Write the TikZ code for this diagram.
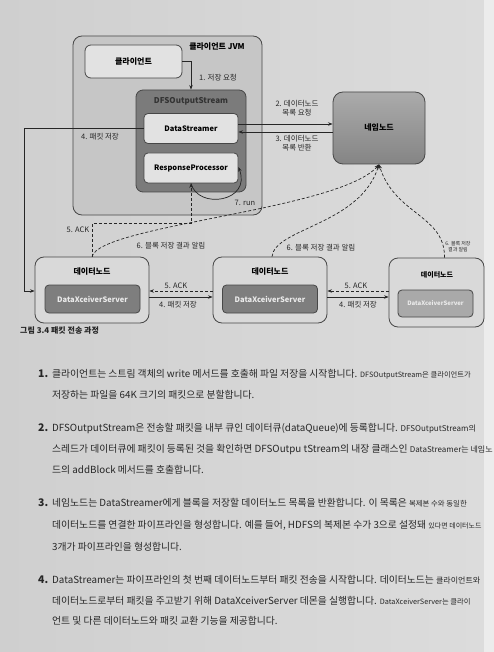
\documentclass[tikz,border=0pt]{standalone}
\usepackage{fontspec}
\setmainfont{Noto Sans CJK KR}
\usepackage{xcolor}
\usetikzlibrary{arrows.meta}

\definecolor{paperleft}{HTML}{CFCFCF}
\definecolor{paperright}{HTML}{DCDCDC}
\definecolor{pageedge}{HTML}{ECECEC}
\definecolor{ink}{HTML}{262626}
\definecolor{edgegray}{HTML}{474747}
\definecolor{jvmfill}{HTML}{C6C6C6}
\definecolor{lightfill}{HTML}{E2E2E2}
\definecolor{dfsfill}{HTML}{7B7B7B}
\definecolor{serverfill}{HTML}{7E7E7E}
\definecolor{paleserver}{HTML}{A9A9A9}
\definecolor{nodefill}{HTML}{D9D9D9}

% smaller run of text at the curled right edge of the page
\newcommand{\edgetext}[2]{{\fontsize{#1}{8}\selectfont #2}}

\tikzset{
  box/.style={draw=edgegray, line width=0.8pt, inner sep=0pt},
  jvmbox/.style={box, fill=jvmfill, rounded corners=9pt},
  clientbox/.style={box, fill=lightfill, rounded corners=6pt, font=\fontsize{8}{9}\selectfont\bfseries},
  dfsbox/.style={box, fill=dfsfill, rounded corners=7pt},
  classbox/.style={box, fill=lightfill, rounded corners=4pt, minimum width=94pt, minimum height=30pt, font=\fontsize{7.5}{9}\selectfont\bfseries},
  namebox/.style={box, top color=black!33, bottom color=black!48, rounded corners=10pt, font=\fontsize{8}{9}\selectfont\bfseries},
  datanodebox/.style={box, fill=nodefill, rounded corners=9pt, minimum width=114pt, minimum height=66pt},
  serverbox/.style={box, fill=serverfill, rounded corners=4pt, minimum width=95pt, minimum height=28pt, text=black!8, font=\fontsize{7.5}{9}\selectfont\bfseries},
  boxtitle/.style={inner sep=0pt, font=\fontsize{8}{9}\selectfont\bfseries},
  label/.style={inner sep=0pt, text=ink, font=\fontsize{7.5}{9}\selectfont},
  link/.style={draw=ink, line width=0.7pt},
  dashlink/.style={link, dash pattern=on 3pt off 2pt},
  bodytext/.style={anchor=west, inner sep=0pt, text height=8pt, text depth=2pt, text=ink, font=\fontsize{9.8}{11}\selectfont},
  itemnum/.style={bodytext, font=\fontsize{10.5}{11}\selectfont\bfseries}
}

\begin{document}
\begin{tikzpicture}[x=1pt,y=-1pt,>={Stealth[length=1.6mm]}]
  \useasboundingbox (0,0) rectangle (494,652);
  \shade[left color=paperleft, right color=paperright] (0,0) rectangle (484,652);
  \fill[pageedge] (484,0) rectangle (494,652);

  % client JVM
  \node[jvmbox, minimum width=189pt, minimum height=179pt] (jvm) at (167.5,125.5) {};
  \node[boxtitle] (jvmtitle) at (217,47) {클라이언트 JVM};
  \node[clientbox, minimum width=97pt, minimum height=33pt] (client) at (133.5,61.5) {클라이언트};
  \node[dfsbox, minimum width=110pt, minimum height=102pt] (dfs) at (191,141) {};
  \node[boxtitle, text=black!80] (dfstitle) at (191,101) {DFSOutputStream};
  \node[classbox] (streamer) at (191,128.5) {DataStreamer};
  \node[classbox] (response) at (191,168) {ResponseProcessor};

  % name node
  \node[namebox, minimum width=92pt, minimum height=72pt] (namenode) at (379,128) {네임노드};

  % data nodes
  \node[datanodebox] (dn1) at (92,290) {};
  \node[boxtitle] (dn1title) at (92,272) {데이터노드};
  \node[serverbox] (dxs1) at (92.5,299) {DataXceiverServer};
  \node[datanodebox] (dn2) at (270,290) {};
  \node[boxtitle] (dn2title) at (270,272) {데이터노드};
  \node[serverbox] (dxs2) at (270,299) {DataXceiverServer};
  \node[datanodebox, minimum width=95pt, minimum height=69pt] (dn3) at (436.5,292.5) {};
  \node[boxtitle, font=\fontsize{7}{8}\selectfont\bfseries] (dn3title) at (437,275) {데이터노드};
  \node[serverbox, fill=paleserver, minimum width=75pt, minimum height=27pt, font=\fontsize{6}{7}\selectfont\bfseries] (dxs3) at (435.5,303.5) {DataXceiverServer};

  % client side arrows
  \draw[link,->] (client.east) -| (dfs.north);
  \node[label] (l1) at (218,78) {1. 저장 요청};
  \draw[link,->] ([yshift=4.5pt]streamer.east) -- ([yshift=4.5pt]streamer.east -| namenode.west);
  \draw[link,->] ([yshift=-3.5pt]streamer.east -| namenode.west) -- ([yshift=-3.5pt]streamer.east);
  \node[label, align=center] (l2) at (297,108) {2. 데이터노드\\목록 요청};
  \node[label, align=center] (l3) at (297,143.5) {3. 데이터노드\\목록 반환};
  \coordinate (leftrail) at (24,0);
  \draw[link,->] (streamer.west) -- (streamer.west -| leftrail) |- ([yshift=-1pt]dn1.west);
  \node[label] (l4) at (100,137) {4. 패킷 저장};
  \draw[link,->] (response.south) .. controls (198,210) and (252,202) .. ([yshift=1pt]response.east);
  \node[label] (l7) at (245,203) {7. run};
  \draw[dashlink,->] (dn1.north) |- ([yshift=-40pt]response.south) -- (response.south);
  \node[label] (l5) at (78,230) {5. ACK};

  % pipeline
  \draw[dashlink,->] ([yshift=-1pt]dn2.west) -- ([yshift=-1pt]dn1.east);
  \draw[link,->] ([yshift=-7pt]dn1.east) -- ([yshift=-7pt]dn2.west);
  \draw[dashlink,->] ([yshift=-1pt]dn2.east -| dn3.west) -- ([yshift=-1pt]dn2.east);
  \draw[link,->] ([yshift=-7pt]dn2.east) -- ([yshift=-7pt]dn2.east -| dn3.west);
  \node[label] (a12) at (176,286) {5. ACK};
  \node[label] (p12) at (178,305) {4. 패킷 저장};
  \node[label] (a23) at (356,286) {5. ACK};
  \node[label] (p23) at (358,305) {4. 패킷 저장};

  % block reports
  \draw[dashlink,->] (dn1.north) .. controls (100,225) and (340,210) .. (namenode.south);
  \draw[dashlink,->] ([xshift=2pt]dn2.north) .. controls (275,228) and (360,225) .. (namenode.south);
  \draw[dashlink,->] ([xshift=8pt]dn3.north) .. controls (445,215) and (395,215) .. (namenode.south);
  \node[label] (r1) at (171,246) {6. 블록 저장 결과 알림};
  \node[label] (r2) at (321,248) {6. 블록 저장 결과 알림};
  \node[label, align=center, font=\fontsize{5}{6}\selectfont] (r3) at (458,247) {6. 블록 저장\\결과 알림};

  \node[label, anchor=west, font=\fontsize{8}{9}\selectfont\bfseries] (caption) at (20,331) {그림 3.4 패킷 전송 과정};

  % body text
  \node[itemnum] (n1) at (38,374) {1.};
  \node[bodytext] (t11) at (52,374) {클라이언트는 스트림 객체의 write 메서드를 호출해 파일 저장을 시작합니다. \edgetext{7.3}{DFSOutputStream은 클라이언트가}};
  \node[bodytext] (t12) at (52,395) {저장하는 파일을 64K 크기의 패킷으로 분할합니다.};
  \node[itemnum] (n2) at (38,428) {2.};
  \node[bodytext] (t21) at (52,428) {DFSOutputStream은 전송할 패킷을 내부 큐인 데이터큐(dataQueue)에 등록합니다. \edgetext{8}{DFSOutputStream의}};
  \node[bodytext] (t22) at (52,449) {스레드가 데이터큐에 패킷이 등록된 것을 확인하면 DFSOutpu tStream의 내장 클래스인 \edgetext{8}{DataStreamer는 네임노}};
  \node[bodytext] (t23) at (52,470) {드의 addBlock 메서드를 호출합니다.};
  \node[itemnum] (n3) at (38,503) {3.};
  \node[bodytext] (t31) at (52,503) {네임노드는 DataStreamer에게 블록을 저장할 데이터노드 목록을 반환합니다. 이 목록은 \edgetext{7.4}{복제본 수와 동일한}};
  \node[bodytext] (t32) at (52,525) {데이터노드를 연결한 파이프라인을 형성합니다. 예를 들어, HDFS의 복제본 수가 3으로 설정돼 \edgetext{7}{있다면 데이터노드}};
  \node[bodytext] (t33) at (52,547) {3개가 파이프라인을 형성합니다.};
  \node[itemnum] (n4) at (38,580) {4.};
  \node[bodytext] (t41) at (52,580) {DataStreamer는 파이프라인의 첫 번째 데이터노드부터 패킷 전송을 시작합니다. 데이터노드는 \edgetext{8}{클라이언트와}};
  \node[bodytext] (t42) at (52,601) {데이터노드로부터 패킷을 주고받기 위해 DataXceiverServer 데몬을 실행합니다. \edgetext{7.3}{DataXceiverServer는 클라이}};
  \node[bodytext] (t43) at (52,621) {언트 및 다른 데이터노드와 패킷 교환 기능을 제공합니다.};
\end{tikzpicture}
\end{document}
